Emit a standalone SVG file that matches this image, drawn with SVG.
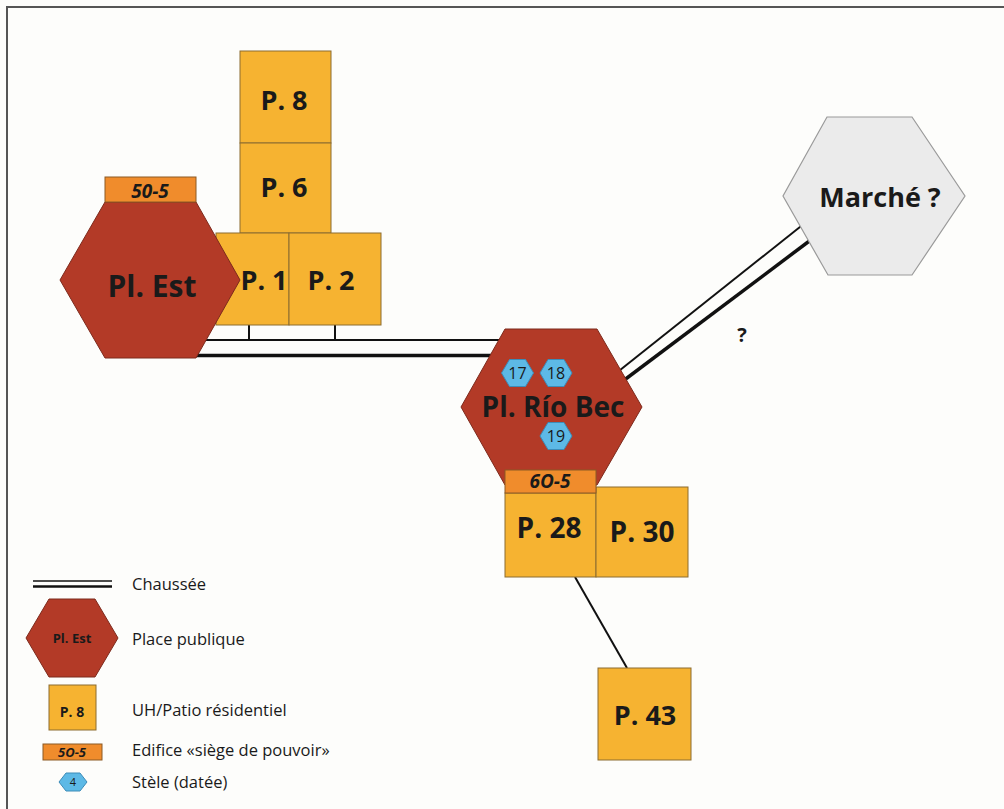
<svg xmlns="http://www.w3.org/2000/svg" width="1004" height="809" viewBox="0 0 1004 809">
<style>
.pl{fill:#b33a27;stroke:#7d2a1c;stroke-width:1}
.sq{fill:#f6b331;stroke:#8c6c30;stroke-width:1}
.pw{fill:#f08c2c;stroke:#8c5a24;stroke-width:1}
.st{fill:#5db9e6;stroke:#3d8cb8;stroke-width:1}
.mk{fill:#ebebeb;stroke:#9a9a9a;stroke-width:1.2}
.b{font-family:"Open Sans","Liberation Sans",sans-serif;font-weight:bold;fill:#1a1a1a;text-anchor:middle}
.bi{font-family:"Open Sans","Liberation Sans",sans-serif;font-weight:bold;font-style:italic;fill:#1a1a1a;text-anchor:middle}
.n{font-family:"Open Sans","Liberation Sans",sans-serif;fill:#1a1a1a;text-anchor:middle}
.lg{font-family:"Open Sans","Liberation Sans",sans-serif;fill:#1a1a1a;font-size:16.5px}
.thin{stroke:#111;stroke-width:2;fill:none}
.thick{stroke:#111;stroke-width:3.5;fill:none}
</style>
<rect x="0" y="0" width="1004" height="809" fill="#fdfdfb"/>
<path d="M7 809 V7 H1004" fill="none" stroke="#555" stroke-width="2"/>
<g id="connectors">
<line class="thin" x1="200" y1="340" x2="505" y2="340"/>
<line class="thick" x1="195" y1="355.5" x2="500" y2="355.5"/>
<line class="thin" x1="249" y1="325" x2="249" y2="340"/>
<line class="thin" x1="335" y1="325" x2="335" y2="340"/>
<line class="thin" x1="600" y1="386" x2="815" y2="215"/>
<line class="thick" x1="605" y1="394.5" x2="820" y2="233"/>
<line class="thin" x1="575" y1="577" x2="627" y2="668" stroke-width="2.2"/>
</g>
<text class="b" x="742" y="342" font-size="20">?</text>
<g id="p8"><rect class="sq" x="240" y="51" width="91" height="92"/><text class="b" x="284" y="110" font-size="27">P. 8</text></g>
<g id="p6"><rect class="sq" x="240" y="143" width="91" height="90"/><text class="b" x="284" y="197" font-size="27">P. 6</text></g>
<g id="p1"><rect class="sq" x="216" y="233" width="73" height="92"/><text class="b" x="264" y="290" font-size="27">P. 1</text></g>
<g id="p2"><rect class="sq" x="289" y="233" width="92" height="92"/><text class="b" x="331" y="290" font-size="27">P. 2</text></g>
<g id="pl-est"><polygon class="pl" points="105,202 196,202 240,280 196,358 105,358 60,280"/><text class="b" x="152" y="297" font-size="30">Pl. Est</text></g>
<g id="e50-5"><rect class="pw" x="105" y="177" width="91" height="25"/><text class="bi" x="150" y="198" font-size="19">50-5</text></g>
<g id="marche"><polygon class="mk" points="827,117 912,117 965,196 912,275 828,275 783,196"/><text class="b" x="880" y="207" font-size="27">Marché ?</text></g>
<g id="pl-riobec"><polygon class="pl" points="505,329 597,329 642,407 597,485 505,485 461,407"/><text class="b" x="553" y="417" font-size="28">Pl. Río Bec</text></g>
<g id="stele17"><polygon class="st" points="501.5,373 509.5,359.5 525.5,359.5 533.5,373 525.5,386.5 509.5,386.5"/><text class="n" x="517.5" y="379" font-size="16">17</text></g>
<g id="stele18"><polygon class="st" points="540,373 548,359.5 564,359.5 572,373 564,386.5 548,386.5"/><text class="n" x="556" y="379" font-size="16">18</text></g>
<g id="stele19"><polygon class="st" points="540,436 548,422.5 564,422.5 572,436 564,449.5 548,449.5"/><text class="n" x="556" y="442" font-size="16">19</text></g>
<g id="p28"><rect class="sq" x="505" y="493" width="91" height="84"/><text class="b" x="549" y="538" font-size="28">P. 28</text></g>
<g id="p30"><rect class="sq" x="596" y="487" width="92" height="90"/><text class="b" x="642" y="542" font-size="28">P. 30</text></g>
<g id="e60-5"><rect class="pw" x="505" y="470" width="91" height="23"/><text class="bi" x="550" y="488" font-size="19">6O-5</text></g>
<g id="p43"><rect class="sq" x="598" y="668" width="93" height="92"/><text class="b" x="645" y="725" font-size="27">P. 43</text></g>
<g id="legend">
<line x1="33" y1="581" x2="112" y2="581" stroke="#111" stroke-width="1.5"/>
<line x1="33" y1="586.5" x2="112" y2="586.5" stroke="#111" stroke-width="2.5"/>
<text class="lg" x="132" y="590">Chaussée</text>
<polygon class="pl" points="49,599 95,599 118,638 95,677 49,677 26,638"/>
<text class="b" x="72" y="643" font-size="13">Pl. Est</text>
<text class="lg" x="132" y="645">Place publique</text>
<rect class="sq" x="49" y="685" width="47" height="45"/>
<text class="b" x="72" y="717" font-size="14">P. 8</text>
<text class="lg" x="132" y="716">UH/Patio résidentiel</text>
<rect class="pw" x="43" y="744" width="59" height="16"/>
<text class="bi" x="72" y="757" font-size="13">5O-5</text>
<text class="lg" x="132" y="756">Edifice «siège de pouvoir»</text>
<polygon class="st" points="59,782 66,773 80,773 87,782 80,791 66,791"/>
<text class="n" x="73" y="786" font-size="11">4</text>
<text class="lg" x="132" y="788">Stèle (datée)</text>
</g>
</svg>
